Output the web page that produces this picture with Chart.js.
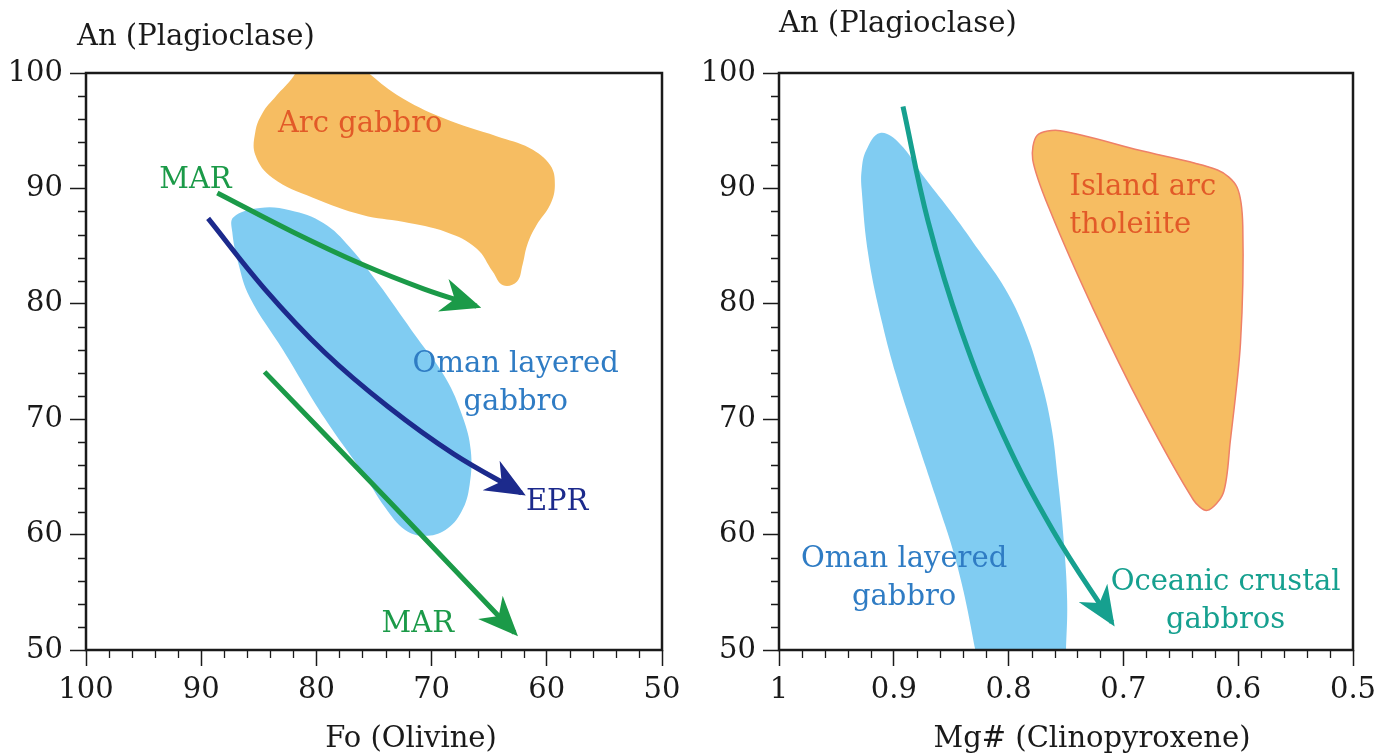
<!DOCTYPE html>
<html>
<head>
<meta charset="utf-8">
<script src="https://cdn.jsdelivr.net/npm/chart.js@4.4.1/dist/chart.umd.min.js"></script>
<style>
  html, body { margin: 0; padding: 0; background: #fff; }
  #wrap { position: relative; width: 1395px; height: 756px; overflow: hidden; }
  canvas { position: absolute; top: 0; }
  #olivine { left: 0; }
  #cpx { left: 697px; }
</style>
</head>
<body>
<div id="wrap">
  <canvas id="olivine" width="697" height="756"></canvas>
  <canvas id="cpx" width="698" height="756"></canvas>
</div>
<script>
// ---------- left panel: Fo (olivine) vs An (plagioclase)
const foTicks = [100, 90, 80, 70, 60, 50];
const anTicks = [50, 60, 70, 80, 90, 100];

// outline points go a little past the frame where the field is cut by it
const arcGabbroFo = [79.0, 76.2, 73.0, 69.0, 64.3, 61.5, 59.7, 59.3, 59.7, 60.9, 61.7, 62.1, 62.6, 63.8, 64.7, 66.1, 68.7, 72.5, 76.0, 80.3, 83.8, 85.3, 85.3, 84.7, 83.5, 82.0, 81.0, 79.0];
const arcGabbroAn = [102, 100.5, 98.1, 96.1, 94.5, 93.5, 92.0, 90.3, 88.6, 86.8, 85.1, 83.4, 81.9, 81.6, 82.8, 84.8, 86.2, 87.1, 87.7, 89.2, 90.9, 92.9, 94.9, 96.5, 98.0, 99.7, 101.5, 102];

const omanFo = [74.2, 71.3, 68.8, 67.3, 66.6, 66.7, 67.4, 68.8, 70.6, 72.3, 74.0, 76.0, 79.3, 82.9, 85.8, 86.8, 87.3, 87.2, 84.9, 82.3, 79.4, 77.1, 74.2];
const omanAn = [81.2, 77.1, 73.6, 70.2, 67.3, 64.3, 62.0, 60.4, 59.9, 60.4, 62.3, 65.4, 70.1, 76.0, 80.6, 83.6, 86.2, 87.5, 88.3, 88.1, 87.0, 84.9, 81.2];

const marUpperFo = [88.6, 82.0, 76.0, 70.7, 66.1];
const marUpperAn = [89.6, 86.2, 83.4, 81.3, 79.8];

const eprFo = [89.4, 84.5, 79.3, 73.8, 68.1, 62.2];
const eprAn = [87.4, 81.3, 75.8, 71.1, 67.0, 63.6];

const marLowerFo = [84.5, 73.6, 62.8];
const marLowerAn = [74.1, 62.8, 51.5];

// ---------- right panel: Mg# (clinopyroxene) vs An (plagioclase)
const mgTicks = [1, 0.9, 0.8, 0.7, 0.6, 0.5];

const omanCpxMg = [0.826, 0.829, 0.845, 0.864, 0.883, 0.898, 0.910, 0.922, 0.928, 0.928, 0.924, 0.912, 0.895, 0.873, 0.848, 0.825, 0.803, 0.786, 0.773, 0.763, 0.757, 0.752, 0.749, 0.750, 0.751, 0.826];
const omanCpxAn = [47.4, 50.0, 57.4, 63.4, 69.1, 73.8, 78.3, 84.1, 89.9, 91.6, 93.3, 94.8, 93.9, 90.9, 87.7, 84.5, 81.3, 77.8, 73.8, 69.5, 64.7, 59.5, 54.3, 50.0, 47.4, 47.4];

const tholeiiteMg = [0.686, 0.618, 0.601, 0.596, 0.598, 0.607, 0.613, 0.627, 0.639, 0.683, 0.726, 0.764, 0.779, 0.775, 0.755, 0.686];
const tholeiiteAn = [93.3, 91.6, 90.1, 86.7, 76.6, 68.0, 63.6, 62.1, 63.0, 70.8, 79.5, 88.1, 92.5, 94.6, 95.0, 93.3];

const oceanicMg = [0.892, 0.870, 0.841, 0.805, 0.761, 0.710];
const oceanicAn = [97.1, 87.1, 77.6, 68.7, 60.3, 52.4];

const SERIF = '"DejaVu Serif", serif';
const INK = '#1a1a1a';
const FONT_SIZE = 29;

function pts(xs, ys) {
  return xs.map((v, i) => ({ x: v, y: ys[i] }));
}

function shape(xs, ys, fillColor, line, tension) {
  return {
    data: pts(xs, ys),
    backgroundColor: fillColor,
    borderColor: line || 'rgba(0,0,0,0)',
    borderWidth: line ? 1.5 : 0,
    fill: 'shape',
    tension: tension,
    pointRadius: 0
  };
}

function arrow(xs, ys, color) {
  return {
    data: pts(xs, ys),
    borderColor: color,
    backgroundColor: color,
    borderWidth: 5,
    fill: false,
    tension: 0.4,
    pointRadius: 0,
    arrow: true
  };
}

// arrow heads drawn at the end of each arrow line
const arrowHeads = {
  id: 'arrowHeads',
  afterDatasetDraw(chart, args) {
    const ds = chart.data.datasets[args.index];
    if (!ds.arrow) return;
    const p = args.meta.data;
    const a = p[p.length - 2], b = p[p.length - 1];
    let dx = b.x - a.x, dy = b.y - a.y;
    const len = Math.hypot(dx, dy);
    dx /= len; dy /= len;
    const nx = -dy, ny = dx;
    const tx = b.x + dx * 5, ty = b.y + dy * 5;
    const L = 40, W = 17, N = 12;
    const ctx = chart.ctx;
    ctx.save();
    ctx.fillStyle = ds.borderColor;
    ctx.beginPath();
    ctx.moveTo(tx, ty);
    ctx.lineTo(tx - dx * L + nx * W, ty - dy * L + ny * W);
    ctx.lineTo(tx - dx * (L - N), ty - dy * (L - N));
    ctx.lineTo(tx - dx * L - nx * W, ty - dy * L - ny * W);
    ctx.closePath();
    ctx.fill();
    ctx.restore();
  }
};

// minor ticks, frame, axis titles and text labels
const decorations = {
  id: 'decorations',
  afterDraw(chart, args, opts) {
    const { ctx, chartArea: a, scales: { x, y } } = chart;
    ctx.save();

    ctx.strokeStyle = INK;
    ctx.lineWidth = 1.3;
    ctx.beginPath();
    const nx = Math.round((x.max - x.min) / opts.xMinor);
    for (let i = 0; i <= nx; i++) {
      if (i % 5 === 0) continue;
      const px = Math.round(x.getPixelForValue(x.min + i * opts.xMinor)) + 0.5;
      ctx.moveTo(px, a.bottom);
      ctx.lineTo(px, a.bottom + 8);
    }
    const ny = Math.round((y.max - y.min) / 2);
    for (let i = 0; i <= ny; i++) {
      if (i % 5 === 0) continue;
      const py = Math.round(y.getPixelForValue(y.min + i * 2)) + 0.5;
      ctx.moveTo(a.left - 8, py);
      ctx.lineTo(a.left, py);
    }
    ctx.stroke();

    ctx.lineWidth = 2.5;
    ctx.strokeRect(a.left, a.top, a.right - a.left, a.bottom - a.top);

    ctx.fillStyle = INK;
    ctx.font = FONT_SIZE + 'px ' + SERIF;
    ctx.textBaseline = 'middle';
    ctx.textAlign = 'left';
    ctx.fillText(opts.yTitle, a.left + opts.yTitleDx, opts.yTitleY);
    ctx.textAlign = 'center';
    ctx.fillText(opts.xTitle, (a.left + a.right) / 2 + opts.xTitleDx, 739);

    opts.labels.forEach(l => {
      ctx.fillStyle = l.color;
      ctx.textAlign = l.align || 'center';
      const lines = l.text.split('\n');
      const cx = x.getPixelForValue(l.x);
      const cy = y.getPixelForValue(l.y);
      lines.forEach((t, i) => {
        ctx.fillText(t, cx, cy + (i - (lines.length - 1) / 2) * 38);
      });
    });
    ctx.restore();
  }
};

function axisOpts(min, max, step, reverse, size, fmt) {
  return {
    type: 'linear',
    min: min,
    max: max,
    reverse: reverse,
    ticks: {
      stepSize: step,
      autoSkip: false,
      maxRotation: 0,
      color: INK,
      padding: 7,
      font: { family: SERIF, size: FONT_SIZE },
      callback: fmt
    },
    grid: { drawOnChartArea: false, tickLength: 16, tickColor: INK, tickWidth: 1.5 },
    border: { display: false },
    afterFit: size
  };
}

function makeChart(id, datasets, xAxis, padRight, yWidth, deco) {
  return new Chart(document.getElementById(id), {
    type: 'line',
    data: { datasets: datasets },
    options: {
      responsive: false,
      animation: false,
      events: [],
      devicePixelRatio: 1,
      layout: { padding: { left: 0, top: 73, right: padRight, bottom: 0 } },
      plugins: { legend: { display: false }, tooltip: { enabled: false }, decorations: deco },
      scales: {
        x: xAxis,
        y: axisOpts(50, 100, 10, false, s => { s.width = yWidth; }, v => v)
      }
    },
    plugins: [arrowHeads, decorations]
  });
}

const green = '#1b9a48';
const navy = '#1c2a8c';
const teal = '#16a08f';
const orange = '#f6bd62';
const sky = '#80ccf2';

makeChart('olivine', [
  arrow(marUpperFo, marUpperAn, green),
  arrow(eprFo, eprAn, navy),
  arrow(marLowerFo, marLowerAn, green),
  shape(omanFo, omanAn, sky, null, 0.4),
  shape(arcGabbroFo, arcGabbroAn, orange, null, 0.4)
], axisOpts(50, 100, 10, true, s => { s.height = 106; }, v => v), 35, 86, {
  xMinor: 2,
  yTitle: 'An (Plagioclase)', yTitleDx: -9, yTitleY: 37,
  xTitle: 'Fo (Olivine)', xTitleDx: 37,
  labels: [
    { text: 'Arc gabbro', x: 76.2, y: 95.5, color: '#e25a28' },
    { text: 'MAR', x: 90.5, y: 90.7, color: green },
    { text: 'Oman layered\ngabbro', x: 62.7, y: 73.1, color: '#2f7cc4' },
    { text: 'EPR', x: 59.1, y: 62.8, color: navy },
    { text: 'MAR', x: 71.2, y: 52.2, color: green }
  ]
});

makeChart('cpx', [
  arrow(oceanicMg, oceanicAn, teal),
  shape(tholeiiteMg, tholeiiteAn, orange, '#ee8068', 0.3),
  shape(omanCpxMg, omanCpxAn, sky, null, 0.4)
], axisOpts(0.5, 1, 0.1, true, s => { s.height = 106; }, v => String(Math.round(v * 10) / 10)), 42, 82, {
  xMinor: 0.02,
  yTitle: 'An (Plagioclase)', yTitleDx: 0, yTitleY: 24,
  xTitle: 'Mg# (Clinopyroxene)', xTitleDx: 26,
  labels: [
    { text: 'Island arc\ntholeiite', x: 0.747, y: 88.4, color: '#e25a28', align: 'left' },
    { text: 'Oman layered\ngabbro', x: 0.891, y: 56.2, color: '#2f7cc4' },
    { text: 'Oceanic crustal\ngabbros', x: 0.611, y: 54.2, color: teal }
  ]
});
</script>
</body>
</html>
